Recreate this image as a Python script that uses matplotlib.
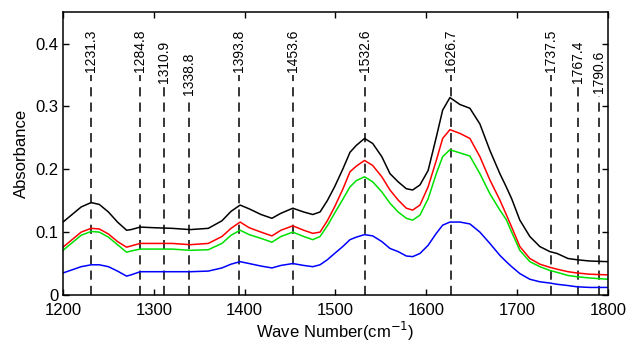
import matplotlib.pyplot as plt
import matplotlib.ticker as ticker

plt.rcParams['font.family'] = ['Liberation Sans', 'DejaVu Sans']

# Wave numbers (cm-1) sampled along the spectra
wn = [1200, 1210, 1220, 1231, 1240, 1250, 1260, 1270, 1275, 1285,
      1300, 1320, 1340, 1360, 1375, 1385, 1395, 1405, 1418, 1430,
      1440, 1453, 1465, 1475, 1483, 1491, 1499, 1508, 1516, 1523,
      1532, 1541, 1551, 1560, 1569, 1578, 1585, 1593, 1602, 1611,
      1618, 1626, 1637, 1648, 1659, 1670, 1681, 1688, 1694, 1703,
      1714, 1725, 1736, 1744, 1756, 1766, 1780, 1800]

black = [0.116, 0.128, 0.140, 0.147, 0.144, 0.132, 0.116, 0.103, 0.104, 0.108,
         0.107, 0.106, 0.104, 0.106, 0.118, 0.133, 0.143, 0.137, 0.128, 0.122,
         0.130, 0.138, 0.132, 0.128, 0.132, 0.150, 0.172, 0.200, 0.227, 0.238,
         0.249, 0.241, 0.220, 0.193, 0.180, 0.169, 0.167, 0.175, 0.198, 0.251,
         0.294, 0.314, 0.303, 0.297, 0.272, 0.230, 0.193, 0.172, 0.153, 0.119,
         0.093, 0.077, 0.069, 0.066, 0.058, 0.056, 0.054, 0.053]

red = [0.076, 0.088, 0.100, 0.106, 0.105, 0.097, 0.085, 0.076, 0.078, 0.082,
       0.082, 0.082, 0.080, 0.082, 0.093, 0.106, 0.116, 0.107, 0.100, 0.094,
       0.103, 0.110, 0.103, 0.098, 0.100, 0.118, 0.140, 0.168, 0.196, 0.205,
       0.214, 0.206, 0.188, 0.167, 0.151, 0.138, 0.135, 0.143, 0.172, 0.214,
       0.249, 0.263, 0.257, 0.249, 0.220, 0.183, 0.151, 0.128, 0.108, 0.077,
       0.058, 0.049, 0.044, 0.041, 0.037, 0.035, 0.033, 0.032]

green = [0.071, 0.083, 0.095, 0.101, 0.100, 0.092, 0.080, 0.068, 0.070, 0.073,
         0.073, 0.073, 0.071, 0.072, 0.082, 0.095, 0.103, 0.096, 0.090, 0.084,
         0.093, 0.100, 0.093, 0.088, 0.093, 0.110, 0.130, 0.152, 0.172, 0.182,
         0.188, 0.180, 0.164, 0.146, 0.132, 0.122, 0.119, 0.127, 0.153, 0.193,
         0.220, 0.231, 0.226, 0.221, 0.193, 0.161, 0.135, 0.120, 0.100, 0.071,
         0.053, 0.045, 0.039, 0.036, 0.031, 0.029, 0.027, 0.025]

blue = [0.035, 0.040, 0.045, 0.048, 0.048, 0.045, 0.038, 0.030, 0.032, 0.037,
        0.037, 0.037, 0.037, 0.038, 0.043, 0.049, 0.053, 0.050, 0.046, 0.043,
        0.047, 0.050, 0.047, 0.045, 0.048, 0.056, 0.066, 0.077, 0.088, 0.092,
        0.096, 0.094, 0.085, 0.074, 0.069, 0.062, 0.061, 0.066, 0.079, 0.098,
        0.111, 0.116, 0.116, 0.113, 0.100, 0.082, 0.063, 0.053, 0.045, 0.034,
        0.025, 0.021, 0.019, 0.017, 0.015, 0.013, 0.012, 0.012]

# Marked peak positions and where their labels sit
peaks = [1231.3, 1284.8, 1310.9, 1338.8, 1393.8, 1453.6, 1532.6, 1626.7,
         1737.5, 1767.4, 1790.6]
peak_label_y = [0.354, 0.354, 0.337, 0.318, 0.354, 0.354, 0.354, 0.354,
                0.354, 0.337, 0.321]

fig = plt.figure(figsize=(6.3, 3.45), dpi=100)
ax = fig.add_axes([0.1, 0.145, 0.865, 0.82])

for p, ly in zip(peaks, peak_label_y):
    ax.plot([p, p], [0, ly - 0.004], color='black', lw=1.1,
            dashes=(6, 4))
    ax.text(p, ly, f'{p:.1f}', rotation=90, ha='center', va='bottom',
            fontsize=10)

ax.plot(wn, black, color='black', lw=1.1)
ax.plot(wn, red, color='#ff0000', lw=1.1)
ax.plot(wn, green, color='#00e000', lw=1.1)
ax.plot(wn, blue, color='#0000ff', lw=1.1)

ax.set_xlim(1200, 1800)
ax.set_ylim(0, 0.45)
ax.set_xticks([1200, 1300, 1400, 1500, 1600, 1700, 1800])
ax.set_yticks([0, 0.1, 0.2, 0.3, 0.4])
ax.yaxis.set_major_formatter(ticker.FuncFormatter(
    lambda v, pos: '0' if v == 0 else f'{v:.1f}'))
ax.tick_params(direction='in', top=True, right=True, length=4,
               labelsize=12, width=1)
ax.tick_params(axis='x', pad=6)
for s in ax.spines.values():
    s.set_linewidth(1.1)

ax.set_xlabel('Wave Number(cm$^{-1}$)', fontsize=12, labelpad=1)
ax.set_ylabel('Absorbance', fontsize=12, labelpad=4)

fig.savefig('out.png', dpi=100)
